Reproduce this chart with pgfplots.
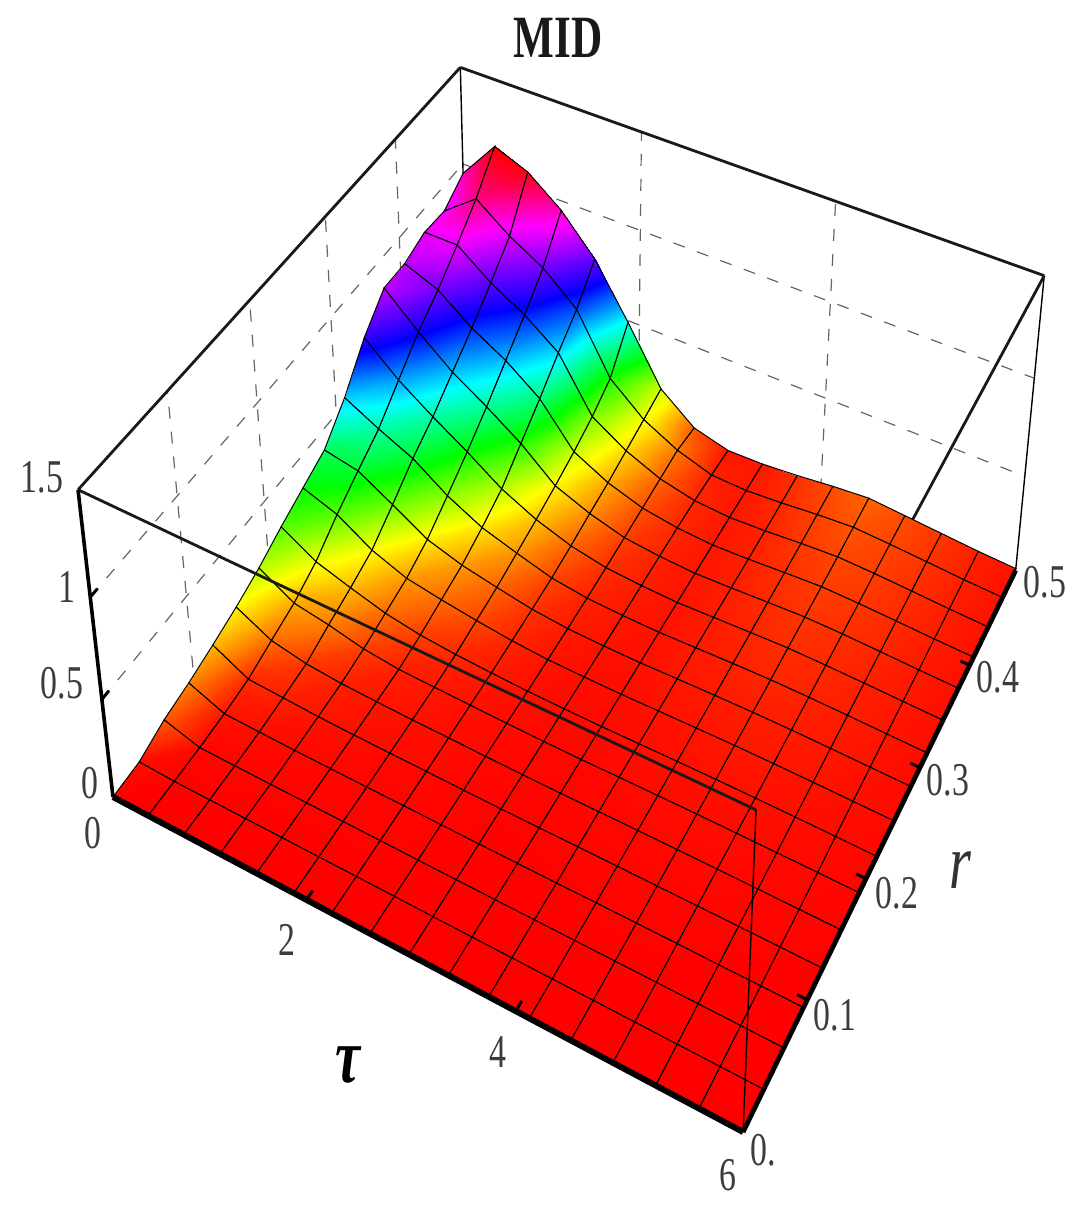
\documentclass[border=0pt]{standalone}
\usepackage{fontspec}
\setmainfont[FakeStretch=0.72]{Liberation Serif}
\usepackage{pgfplots}
\pgfplotsset{compat=1.18}
\definecolor{tickgray}{HTML}{3C3C3C}
\pgfplotsset{
  /pgfplots/table/persp/.style={row sep=\\,
    x expr={px(\thisrow{t},\thisrow{r},\thisrow{z})},
    y expr={py(\thisrow{t},\thisrow{r},\thisrow{z})},
    z expr={\thisrow{z}}},
}
\tikzset{lab/.style={font=\fontsize{23.5}{23.5}\selectfont,text=tickgray,inner sep=0pt,anchor=center}}
% one straight piece of the box, given in data coordinates
\newcommand{\seg}[7]{\addplot3[#1] table[persp] {t r z\\ #2 #3 #4\\ #5 #6 #7\\};}
\begin{document}
\begin{tikzpicture}
\begin{axis}[view={0}{90},hide axis,scale only axis,width=538.5pt,height=605pt,
  xmin=0,xmax=1077,ymin=0,ymax=1210,zmin=0,zmax=1.5,clip=false,
  declare function={
    pw(\a,\b,\c)=1-0.1145*\a/6+0.2066*\b/0.5-0.0685*\c/1.5;
    px(\a,\b,\c)=(113+545*\a/6+451.2*\b/0.5-40.3*\c/1.5)/pw(\a,\b,\c);
    py(\a,\b,\c)=1210-(797+205.5*\a/6-379.5*\b/0.5-340.8*\c/1.5)/pw(\a,\b,\c);
  },
  colormap={hue}{
    rgb255(0)=(255,0,0) rgb255(167)=(255,255,0) rgb255(333)=(0,255,0) rgb255(500)=(0,255,255)
    rgb255(670)=(0,0,255) rgb255(900)=(255,0,255) rgb255(1100)=(255,0,0)},
  point meta min=0,point meta max=1.1,
  bdash/.style={line width=.6pt,black!60,dash pattern=on 6pt off 6.5pt,no markers},
  bwire/.style={line width=1.4pt,black!90,no markers},
  bfine/.style={line width=.7pt,black,no markers},
  bedge/.style={line width=1.8pt,black,no markers},
  btick/.style={line width=1.5pt,black,no markers},
]
% back walls
\seg{bdash}{0}{.1}{0}{0}{.1}{1.5}
\seg{bdash}{0}{.2}{0}{0}{.2}{1.5}
\seg{bdash}{0}{.3}{0}{0}{.3}{1.5}
\seg{bdash}{0}{.4}{0}{0}{.4}{1.5}
\seg{bdash}{0}{0}{.5}{0}{.5}{.5}
\seg{bdash}{0}{0}{1}{0}{.5}{1}
\seg{bdash}{2}{.5}{0}{2}{.5}{1.5}
\seg{bdash}{4}{.5}{0}{4}{.5}{1.5}
\seg{bdash}{0}{.5}{.5}{6}{.5}{.5}
\seg{bdash}{0}{.5}{1}{6}{.5}{1}
\seg{bfine}{0}{.5}{0}{0}{.5}{1.5}
\seg{bfine}{6}{.5}{0}{6}{.5}{1.5}
\seg{bwire}{0}{0}{1.5}{0}{.5}{1.5}
\seg{bwire}{0}{.5}{1.5}{6}{.5}{1.5}
\seg{bwire}{6}{.5}{1.5}{6}{0}{1.5}
% surface, back row first
\addplot3[surf,shader=faceted interp,faceted color=black,line width=.5pt,z buffer=none,
  mesh/rows=17,mesh/cols=17,point meta=\thisrow{z}] table[persp] {t r z\\
0 .5 .95\\.375 .5 1.155\\.75 .5 1.085\\1.125 .5 .95\\1.5 .5 .76\\1.875 .5 .49\\2.25 .5 .20\\2.625 .5 .06\\3 .5 .012\\3.375 .5 .015\\3.75 .5 .03\\4.125 .5 .05\\4.5 .5 .065\\4.875 .5 .05\\5.25 .5 .035\\5.625 .5 .02\\6 .5 .01\\
0 .46875 .87\\.375 .46875 1.0\\.75 .46875 .87\\1.125 .46875 .77\\1.5 .46875 .62\\1.875 .46875 .32\\2.25 .46875 .17\\2.625 .46875 .078\\3 .46875 .02\\3.375 .46875 .014\\3.75 .46875 .026\\4.125 .46875 .043\\4.5 .46875 .055\\4.875 .46875 .045\\5.25 .46875 .033\\5.625 .46875 .02\\6 .46875 .011\\
0 .4375 .88\\.375 .4375 .88\\.75 .4375 .75\\1.125 .4375 .65\\1.5 .4375 .52\\1.875 .4375 .25\\2.25 .4375 .14\\2.625 .4375 .065\\3 .4375 .025\\3.375 .4375 .014\\3.75 .4375 .022\\4.125 .4375 .036\\4.5 .4375 .046\\4.875 .4375 .04\\5.25 .4375 .03\\5.625 .4375 .019\\6 .4375 .011\\
0 .40625 .84\\.375 .40625 .77\\.75 .40625 .64\\1.125 .40625 .54\\1.5 .40625 .41\\1.875 .40625 .20\\2.25 .40625 .11\\2.625 .40625 .052\\3 .40625 .025\\3.375 .40625 .014\\3.75 .40625 .02\\4.125 .40625 .031\\4.5 .40625 .04\\4.875 .40625 .035\\5.25 .40625 .027\\5.625 .40625 .018\\6 .40625 .011\\
0 .375 .84\\.375 .375 .68\\.75 .375 .54\\1.125 .375 .43\\1.5 .375 .31\\1.875 .375 .16\\2.25 .375 .09\\2.625 .375 .04\\3 .375 .022\\3.375 .375 .013\\3.75 .375 .019\\4.125 .375 .027\\4.5 .375 .034\\4.875 .375 .031\\5.25 .375 .024\\5.625 .375 .016\\6 .375 .01\\
0 .34375 .71\\.375 .34375 .56\\.75 .34375 .44\\1.125 .34375 .33\\1.5 .34375 .21\\1.875 .34375 .125\\2.25 .34375 .065\\2.625 .34375 .03\\3 .34375 .018\\3.375 .34375 .012\\3.75 .34375 .018\\4.125 .34375 .024\\4.5 .34375 .029\\4.875 .34375 .026\\5.25 .34375 .021\\5.625 .34375 .015\\6 .34375 .009\\
0 .3125 .53\\.375 .3125 .44\\.75 .3125 .36\\1.125 .3125 .24\\1.5 .3125 .15\\1.875 .3125 .095\\2.25 .3125 .045\\2.625 .3125 .021\\3 .3125 .014\\3.375 .3125 .011\\3.75 .3125 .016\\4.125 .3125 .021\\4.5 .3125 .024\\4.875 .3125 .022\\5.25 .3125 .018\\5.625 .3125 .013\\6 .3125 .008\\
0 .28125 .393\\.375 .28125 .36\\.75 .28125 .26\\1.125 .28125 .155\\1.5 .28125 .10\\1.875 .28125 .065\\2.25 .28125 .033\\2.625 .28125 .016\\3 .28125 .011\\3.375 .28125 .01\\3.75 .28125 .014\\4.125 .28125 .017\\4.5 .28125 .019\\4.875 .28125 .018\\5.25 .28125 .015\\5.625 .28125 .011\\6 .28125 .007\\
0 .25 .336\\.375 .25 .275\\.75 .25 .167\\1.125 .25 .10\\1.5 .25 .07\\1.875 .25 .045\\2.25 .25 .024\\2.625 .25 .012\\3 .25 .009\\3.375 .25 .008\\3.75 .25 .011\\4.125 .25 .013\\4.5 .25 .015\\4.875 .25 .014\\5.25 .25 .012\\5.625 .25 .009\\6 .25 .006\\
0 .21875 .278\\.375 .21875 .175\\.75 .21875 .12\\1.125 .21875 .07\\1.5 .21875 .04\\1.875 .21875 .025\\2.25 .21875 .016\\2.625 .21875 .009\\3 .21875 .007\\3.375 .21875 .006\\3.75 .21875 .008\\4.125 .21875 .01\\4.5 .21875 .011\\4.875 .21875 .01\\5.25 .21875 .009\\5.625 .21875 .007\\6 .21875 .004\\
0 .1875 .212\\.375 .1875 .11\\.75 .1875 .08\\1.125 .1875 .04\\1.5 .1875 .02\\1.875 .1875 .015\\2.25 .1875 .011\\2.625 .1875 .007\\3 .1875 .005\\3.375 .1875 .004\\3.75 .1875 .006\\4.125 .1875 .007\\4.5 .1875 .008\\4.875 .1875 .007\\5.25 .1875 .006\\5.625 .1875 .005\\6 .1875 .003\\
0 .15625 .161\\.375 .15625 .07\\.75 .15625 .035\\1.125 .15625 .02\\1.5 .15625 .014\\1.875 .15625 .01\\2.25 .15625 .008\\2.625 .15625 .005\\3 .15625 .004\\3.375 .15625 .003\\3.75 .15625 .004\\4.125 .15625 .005\\4.5 .15625 .005\\4.875 .15625 .005\\5.25 .15625 .004\\5.625 .15625 .003\\6 .15625 .002\\
0 .125 .12\\.375 .125 .028\\.75 .125 .02\\1.125 .125 .012\\1.5 .125 .008\\1.875 .125 .006\\2.25 .125 .005\\2.625 .125 .003\\3 .125 .002\\3.375 .125 .002\\3.75 .125 .003\\4.125 .125 .003\\4.5 .125 .003\\4.875 .125 .003\\5.25 .125 .003\\5.625 .125 .002\\6 .125 .001\\
0 .09375 .084\\.375 .09375 .012\\.75 .09375 .008\\1.125 .09375 .005\\1.5 .09375 .004\\1.875 .09375 .003\\2.25 .09375 .003\\2.625 .09375 .002\\3 .09375 .001\\3.375 .09375 .001\\3.75 .09375 .001\\4.125 .09375 .002\\4.5 .09375 .002\\4.875 .09375 .002\\5.25 .09375 .001\\5.625 .09375 .001\\6 .09375 .001\\
0 .0625 .057\\.375 .0625 .004\\.75 .0625 .003\\1.125 .0625 .002\\1.5 .0625 .002\\1.875 .0625 .002\\2.25 .0625 .002\\2.625 .0625 .001\\3 .0625 .001\\3.375 .0625 .001\\3.75 .0625 .001\\4.125 .0625 .001\\4.5 .0625 .001\\4.875 .0625 .001\\5.25 .0625 .001\\5.625 .0625 .001\\6 .0625 0\\
0 .03125 .008\\.375 .03125 .001\\.75 .03125 .001\\1.125 .03125 .001\\1.5 .03125 .001\\1.875 .03125 .001\\2.25 .03125 .001\\2.625 .03125 .001\\3 .03125 0\\3.375 .03125 0\\3.75 .03125 0\\4.125 .03125 0\\4.5 .03125 0\\4.875 .03125 0\\5.25 .03125 0\\5.625 .03125 0\\6 .03125 0\\
0 0 0\\.375 0 0\\.75 0 0\\1.125 0 0\\1.5 0 0\\1.875 0 0\\2.25 0 0\\2.625 0 0\\3 0 0\\3.375 0 0\\3.75 0 0\\4.125 0 0\\4.5 0 0\\4.875 0 0\\5.25 0 0\\5.625 0 0\\6 0 0\\
};
% front of the box, over the surface
\seg{bwire}{0}{0}{1.5}{6}{0}{1.5}
\seg{bfine}{6}{0}{1.5}{6}{0}{0}
\seg{bedge}{0}{0}{0}{0}{0}{1.5}
\seg{line width=3pt,black,no markers}{0}{0}{0}{6}{0}{0}
\seg{line width=2.4pt,black,no markers}{6}{0}{0}{6}{.5}{0}
% ticks
\seg{btick}{2}{0}{0}{2}{.008}{0}
\seg{btick}{4}{0}{0}{4}{.008}{0}
\seg{btick}{6}{.1}{0}{5.91}{.1}{0}
\seg{btick}{6}{.2}{0}{5.91}{.2}{0}
\seg{btick}{6}{.3}{0}{5.91}{.3}{0}
\seg{btick}{6}{.4}{0}{5.91}{.4}{0}
\seg{btick}{0}{0}{.5}{0}{.008}{.5}
\seg{btick}{0}{0}{1}{0}{.008}{1}
% labels, placed in picture pixels
\node[lab,font=\fontsize{30}{30}\selectfont\bfseries,text=black!90] at (axis cs:558,1172,0) {MID};
\node[lab] at (axis cs:42,733,0) {1.5};
\node[lab] at (axis cs:67,623,0) {1};
\node[lab] at (axis cs:62,527,0) {0.5};
\node[lab] at (axis cs:90,427,0) {0};
\node[lab] at (axis cs:93,377,0) {0};
\node[lab] at (axis cs:287,270,0) {2};
\node[lab] at (axis cs:498,158,0) {4};
\node[lab] at (axis cs:728,35,0) {6};
\node[lab] at (axis cs:763,60,0) {0.};
\node[lab] at (axis cs:835,195,0) {0.1};
\node[lab] at (axis cs:897,317,0) {0.2};
\node[lab] at (axis cs:948,430,0) {0.3};
\node[lab] at (axis cs:998,533,0) {0.4};
\node[lab] at (axis cs:1045,628,0) {0.5};
\node[lab,text=black,font=\fontsize{39}{39}\selectfont\itshape\bfseries] at (axis cs:348,145,0) {τ};
\node[lab,text=black!80,font=\fontsize{39}{39}\selectfont\itshape] at (axis cs:960,340,0) {r};
\end{axis}
\pgfresetboundingbox
\useasboundingbox (0,0) rectangle (538.5pt,605pt);
\end{tikzpicture}
\end{document}
